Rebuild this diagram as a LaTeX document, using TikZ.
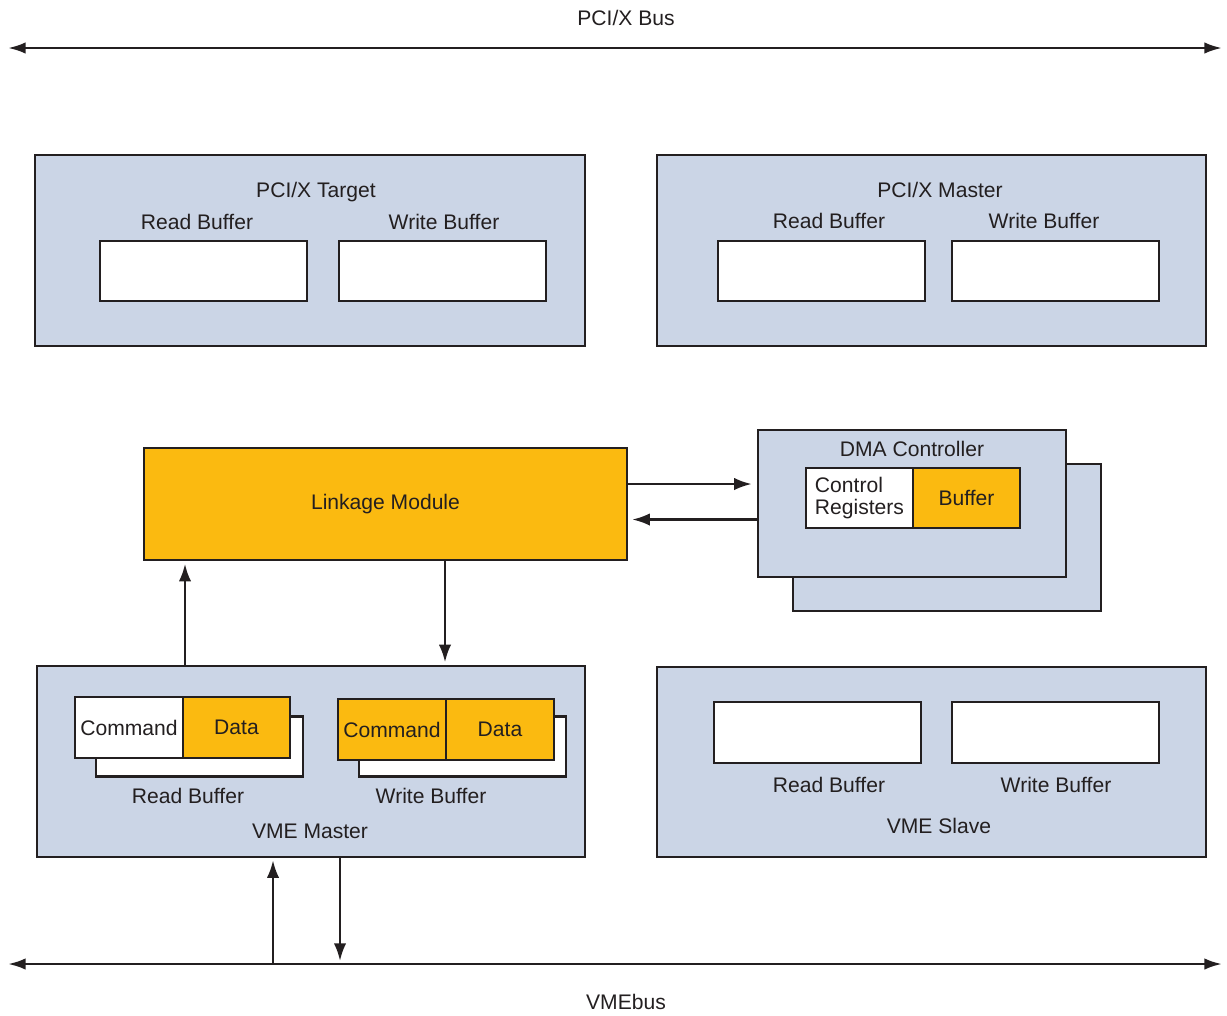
\documentclass[tikz,border=0pt]{standalone}
\usepackage{fontspec}
\setmainfont{Liberation Sans}
\usetikzlibrary{arrows.meta}
\definecolor{panel}{HTML}{CBD5E6}
\definecolor{amber}{HTML}{FBBA10}
\definecolor{ink}{HTML}{231F20}
\tikzset{
  unit/.style={draw=ink, line width=1.4pt, fill=panel, inner sep=0pt},
  buf/.style={draw=ink, line width=1.4pt, fill=white, inner sep=0pt, minimum width=4.14cm, minimum height=1.2cm},
  cell/.style={draw=ink, line width=1.4pt, inner sep=0pt, minimum width=2.15cm, minimum height=1.22cm, text=ink},
  lbl/.style={anchor=base, inner sep=0pt, text=ink},
  flow/.style={draw=ink, line width=1.4pt, -{Latex[length=10pt,width=7pt]}},
  bus/.style={draw=ink, line width=1.5pt, {Latex[length=10pt,width=6.5pt]}-{Latex[length=10pt,width=6.5pt]}}
}
\begin{document}
\begin{tikzpicture}[x=0.02cm, y=-0.02cm]
                        \useasboundingbox (0,0) rectangle (1227,1015);
                        {\fontsize{12}{14}\selectfont

                        % Drawing PCI/X bus
                        \coordinate (pciL) at (8,48);%
                        \coordinate (pciR) at (1222,48);%
                        \draw [bus] (pciL) -- (pciR);%
                        \node [lbl] (pcibus) at (626,25.5) {PCI/X Bus};%

                        % PCI/X target with its buffers
                        \node [unit, minimum width=11cm, minimum height=3.82cm] (tgt) at (310,250.5) {};%
                        \node [lbl] (tgtT) at (316,197.5) {PCI/X Target};%
                        \node [lbl] (tgtRL) at (197,229.5) {Read Buffer};%
                        \node [lbl] (tgtWL) at (444,229.5) {Write Buffer};%
                        \node [buf] (tgtR) at (203.5,271) {};%
                        \node [buf] (tgtW) at (442.5,271) {};%

                        % PCI/X master with its buffers
                        \node [unit, minimum width=10.98cm, minimum height=3.82cm] (mst) at (931.5,250.5) {};%
                        \node [lbl] (mstT) at (940,197.5) {PCI/X Master};%
                        \node [lbl] (mstRL) at (829,228.5) {Read Buffer};%
                        \node [lbl] (mstWL) at (1044,228.5) {Write Buffer};%
                        \node [buf] (mstR) at (821.5,271) {};%
                        \node [buf] (mstW) at (1055.5,271) {};%

                        % Linkage module
                        \node [draw=ink, line width=1.4pt, fill=amber, text=ink, minimum width=9.66cm, minimum height=2.24cm] (link) at (385.5,504) {Linkage Module};%

                        % DMA controller, two stacked panels
                        \node [unit, minimum width=6.16cm, minimum height=2.94cm] (dmaB) at (947,537.5) {};%
                        \node [unit, minimum width=6.16cm, minimum height=2.94cm] (dma) at (912,503.5) {};%
                        \node [lbl] (dmaT) at (912,456.5) {DMA Controller};%
                        \node [cell, fill=white, align=left, minimum width=2.14cm, minimum height=1.2cm, font=\fontsize{12}{13}\selectfont] (ctrl) at (859.5,498) {Control\\Registers};%
                        \node [cell, fill=amber, minimum width=2.14cm, minimum height=1.2cm] (dbuf) at (966.5,498) {Buffer};%

                        % Arrows between linkage module and DMA controller
                        \draw [flow, shorten >=0.1cm] ([yshift=0.4cm]link.east) -- ([yshift=0.4cm]link.east -| dma.west);%
                        \draw [flow, shorten >=0.08cm] ([yshift=-0.32cm]dma.west) -- ([yshift=-0.32cm]dma.west -| link.east);%

                        % VME master
                        \node [unit, minimum width=10.96cm, minimum height=3.82cm] (vmem) at (311,761.5) {};%
                        \node [buf] (mrdB) at (199.5,746.5) {};%
                        \node [cell, fill=white] (mrdC) at (129,727.5) {Command};%
                        \node [cell, fill=amber] (mrdD) at (236.5,727.5) {Data};%
                        \node [buf] (mwrB) at (462.5,746.5) {};%
                        \node [cell, fill=amber] (mwrC) at (392,729.5) {Command};%
                        \node [cell, fill=amber] (mwrD) at (500,729.5) {Data};%
                        \node [lbl] (mrdL) at (188,803.5) {Read Buffer};%
                        \node [lbl] (mwrL) at (431,803.5) {Write Buffer};%
                        \node [lbl] (vmemT) at (310,838.5) {VME Master};%

                        % Arrows between VME master and linkage module
                        \coordinate (upX) at (185,0);%
                        \coordinate (dnX) at (445,0);%
                        \draw [flow, shorten >=0.05cm] (vmem.north -| upX) -- (link.south -| upX);%
                        \draw [flow, shorten >=0.05cm] (link.south -| dnX) -- (vmem.north -| dnX);%

                        % VME slave
                        \node [unit, minimum width=10.98cm, minimum height=3.8cm] (vmes) at (931.5,762) {};%
                        \node [buf, minimum height=1.22cm] (srd) at (817.5,732.5) {};%
                        \node [buf, minimum height=1.22cm] (swr) at (1055.5,732.5) {};%
                        \node [lbl] (srdL) at (829,792.5) {Read Buffer};%
                        \node [lbl] (swrL) at (1056,792.5) {Write Buffer};%
                        \node [lbl] (vmesT) at (939,833.5) {VME Slave};%

                        % Drawing VMEbus
                        \coordinate (vmeL) at (8,964);%
                        \coordinate (vmeR) at (1222,964);%
                        \draw [bus] (vmeL) -- (vmeR);%
                        \node [lbl] (vmebus) at (626,1009.5) {VMEbus};%

                        % Arrows between VMEbus and VME master
                        \coordinate (busUp) at (273,964);%
                        \coordinate (busDn) at (340,964);%
                        \draw [flow, shorten >=0.04cm] (busUp) -- (busUp |- vmem.south);%
                        \draw [flow, shorten >=0.06cm] (busDn |- vmem.south) -- (busDn);%
                        }
                    \end{tikzpicture}
\end{document}
